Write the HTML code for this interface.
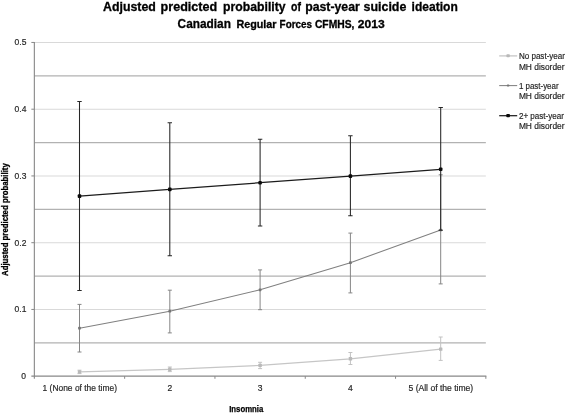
<!DOCTYPE html>
<html><head><meta charset="utf-8"><title>chart</title>
<style>
html,body{margin:0;padding:0;background:#fff;}
body{width:567px;height:413px;overflow:hidden;font-family:"Liberation Sans",sans-serif;}
svg{display:block;will-change:transform;filter:grayscale(1);}
text{font-family:"Liberation Sans",sans-serif;}
.s{stroke:#262626;stroke-width:0.18px;}
</style></head><body>
<svg width="567" height="413" viewBox="0 0 567 413">
<rect width="567" height="413" fill="#fff"/>
<line x1="34.35" x2="485.85" y1="342.82" y2="342.82" stroke="#b2b2b2" stroke-width="1.2"/>
<line x1="34.35" x2="485.85" y1="309.45" y2="309.45" stroke="#d9d9d9" stroke-width="1.05"/>
<line x1="34.35" x2="485.85" y1="276.07" y2="276.07" stroke="#b2b2b2" stroke-width="1.2"/>
<line x1="34.35" x2="485.85" y1="242.7" y2="242.7" stroke="#d9d9d9" stroke-width="1.05"/>
<line x1="34.35" x2="485.85" y1="209.32" y2="209.32" stroke="#b2b2b2" stroke-width="1.2"/>
<line x1="34.35" x2="485.85" y1="175.95" y2="175.95" stroke="#d9d9d9" stroke-width="1.05"/>
<line x1="34.35" x2="485.85" y1="142.57" y2="142.57" stroke="#b2b2b2" stroke-width="1.2"/>
<line x1="34.35" x2="485.85" y1="109.2" y2="109.2" stroke="#d9d9d9" stroke-width="1.05"/>
<line x1="34.35" x2="485.85" y1="75.82" y2="75.82" stroke="#b2b2b2" stroke-width="1.2"/>
<line x1="34.35" x2="485.85" y1="42.45" y2="42.45" stroke="#d9d9d9" stroke-width="1.05"/>
<line x1="34.35" x2="34.35" y1="41.95" y2="378.8" stroke="#878787" stroke-width="1.1"/>
<line x1="31.35" x2="486.35" y1="376.2" y2="376.2" stroke="#878787" stroke-width="1.3"/>
<line x1="31.35" x2="34.35" y1="309.45" y2="309.45" stroke="#878787" stroke-width="1"/>
<line x1="31.35" x2="34.35" y1="242.7" y2="242.7" stroke="#878787" stroke-width="1"/>
<line x1="31.35" x2="34.35" y1="175.95" y2="175.95" stroke="#878787" stroke-width="1"/>
<line x1="31.35" x2="34.35" y1="109.2" y2="109.2" stroke="#878787" stroke-width="1"/>
<line x1="31.35" x2="34.35" y1="42.45" y2="42.45" stroke="#878787" stroke-width="1"/>
<line x1="124.65" x2="124.65" y1="376.2" y2="378.8" stroke="#878787" stroke-width="1"/>
<line x1="214.95" x2="214.95" y1="376.2" y2="378.8" stroke="#878787" stroke-width="1"/>
<line x1="305.25" x2="305.25" y1="376.2" y2="378.8" stroke="#878787" stroke-width="1"/>
<line x1="395.55" x2="395.55" y1="376.2" y2="378.8" stroke="#878787" stroke-width="1"/>
<line x1="485.85" x2="485.85" y1="376.2" y2="378.8" stroke="#878787" stroke-width="1"/>
<path d="M79.50 370.2V373.6M77.50 370.2H81.50M77.50 373.6H81.50" stroke="#c2c2c2" stroke-width="1.0" fill="none"/>
<path d="M169.80 367.0V371.6M167.80 367.0H171.80M167.80 371.6H171.80" stroke="#c2c2c2" stroke-width="1.0" fill="none"/>
<path d="M260.10 362.3V368.6M258.10 362.3H262.10M258.10 368.6H262.10" stroke="#c2c2c2" stroke-width="1.0" fill="none"/>
<path d="M350.40 352.5V364.5M348.40 352.5H352.40M348.40 364.5H352.40" stroke="#c2c2c2" stroke-width="1.0" fill="none"/>
<path d="M440.70 337.0V360.4M438.70 337.0H442.70M438.70 360.4H442.70" stroke="#c2c2c2" stroke-width="1.0" fill="none"/>
<polyline points="79.50,371.9 169.80,369.3 260.10,365.4 350.40,358.8 440.70,349.1" fill="none" stroke="#c6c6c6" stroke-width="1.3"/>
<rect x="77.80" y="370.20" width="3.4" height="3.4" rx="0.5" fill="#b9b9b9"/>
<rect x="168.10" y="367.60" width="3.4" height="3.4" rx="0.5" fill="#b9b9b9"/>
<rect x="258.40" y="363.70" width="3.4" height="3.4" rx="0.5" fill="#b9b9b9"/>
<rect x="348.70" y="357.10" width="3.4" height="3.4" rx="0.5" fill="#b9b9b9"/>
<rect x="439.00" y="347.40" width="3.4" height="3.4" rx="0.5" fill="#b9b9b9"/>
<path d="M79.50 304.4V352.0M77.50 304.4H81.50M77.50 352.0H81.50" stroke="#868686" stroke-width="1.0" fill="none"/>
<path d="M169.80 290.2V332.9M167.80 290.2H171.80M167.80 332.9H171.80" stroke="#868686" stroke-width="1.0" fill="none"/>
<path d="M260.10 269.9V309.7M258.10 269.9H262.10M258.10 309.7H262.10" stroke="#868686" stroke-width="1.0" fill="none"/>
<path d="M350.40 233.1V292.9M348.40 233.1H352.40M348.40 292.9H352.40" stroke="#868686" stroke-width="1.0" fill="none"/>
<path d="M440.70 174.8V283.9M438.70 174.8H442.70M438.70 283.9H442.70" stroke="#868686" stroke-width="1.0" fill="none"/>
<polyline points="79.50,328.2 169.80,311.2 260.10,289.8 350.40,262.7 440.70,230.0" fill="none" stroke="#808080" stroke-width="1.05"/>
<rect x="78.15" y="326.85" width="2.7" height="2.7" rx="0.6" fill="#757575"/>
<rect x="168.45" y="309.85" width="2.7" height="2.7" rx="0.6" fill="#757575"/>
<rect x="258.75" y="288.45" width="2.7" height="2.7" rx="0.6" fill="#757575"/>
<rect x="349.05" y="261.35" width="2.7" height="2.7" rx="0.6" fill="#757575"/>
<rect x="439.35" y="228.65" width="2.7" height="2.7" rx="0.6" fill="#757575"/>
<path d="M79.50 101.5V290.4M77.30 101.5H81.70M77.30 290.4H81.70" stroke="#262626" stroke-width="1.05" fill="none"/>
<path d="M169.80 122.8V255.8M167.60 122.8H172.00M167.60 255.8H172.00" stroke="#262626" stroke-width="1.05" fill="none"/>
<path d="M260.10 139.3V225.9M257.90 139.3H262.30M257.90 225.9H262.30" stroke="#262626" stroke-width="1.05" fill="none"/>
<path d="M350.40 135.7V215.8M348.20 135.7H352.60M348.20 215.8H352.60" stroke="#262626" stroke-width="1.05" fill="none"/>
<path d="M440.70 107.4V230.3M438.50 107.4H442.90M438.50 230.3H442.90" stroke="#262626" stroke-width="1.05" fill="none"/>
<polyline points="79.50,196.1 169.80,189.4 260.10,182.7 350.40,176.1 440.70,169.3" fill="none" stroke="#1c1c1c" stroke-width="1.25"/>
<rect x="77.70" y="194.30" width="3.6" height="3.6" rx="1.0" fill="#0a0a0a"/>
<rect x="168.00" y="187.60" width="3.6" height="3.6" rx="1.0" fill="#0a0a0a"/>
<rect x="258.30" y="180.90" width="3.6" height="3.6" rx="1.0" fill="#0a0a0a"/>
<rect x="348.60" y="174.30" width="3.6" height="3.6" rx="1.0" fill="#0a0a0a"/>
<rect x="438.90" y="167.50" width="3.6" height="3.6" rx="1.0" fill="#0a0a0a"/>
<text x="26.1" y="379.15" font-size="8.5" text-anchor="end" fill="#262626" class="s">0</text>
<text x="26.45" y="312.40" font-size="8.5" text-anchor="end" fill="#262626" class="s">0.1</text>
<text x="26.45" y="245.65" font-size="8.5" text-anchor="end" fill="#262626" class="s">0.2</text>
<text x="26.45" y="178.90" font-size="8.5" text-anchor="end" fill="#262626" class="s">0.3</text>
<text x="26.45" y="112.15" font-size="8.5" text-anchor="end" fill="#262626" class="s">0.4</text>
<text x="26.45" y="45.40" font-size="8.5" text-anchor="end" fill="#262626" class="s">0.5</text>
<text x="42.6" y="390.6" font-size="8.5" textLength="74.4" lengthAdjust="spacingAndGlyphs" fill="#262626" class="s">1 (None of the time)</text>
<text x="169.80" y="390.6" font-size="8.5" text-anchor="middle" fill="#262626" class="s">2</text>
<text x="260.10" y="390.6" font-size="8.5" text-anchor="middle" fill="#262626" class="s">3</text>
<text x="350.40" y="390.6" font-size="8.5" text-anchor="middle" fill="#262626" class="s">4</text>
<text x="408.5" y="390.6" font-size="8.5" textLength="64.7" lengthAdjust="spacingAndGlyphs" fill="#262626" class="s">5 (All of the time)</text>
<text x="103.0" y="10.7" font-size="12.8" font-weight="bold" stroke="#000" stroke-width="0.3" textLength="52.8" lengthAdjust="spacingAndGlyphs" fill="#000">Adjusted</text>
<text x="160.6" y="10.7" font-size="12.8" font-weight="bold" stroke="#000" stroke-width="0.3" textLength="56.6" lengthAdjust="spacingAndGlyphs" fill="#000">predicted</text>
<text x="223.1" y="10.7" font-size="12.8" font-weight="bold" stroke="#000" stroke-width="0.3" textLength="62.5" lengthAdjust="spacingAndGlyphs" fill="#000">probability</text>
<text x="291.0" y="10.7" font-size="12.8" font-weight="bold" stroke="#000" stroke-width="0.3" textLength="9.9" lengthAdjust="spacingAndGlyphs" fill="#000">of</text>
<text x="305.2" y="10.7" font-size="12.8" font-weight="bold" stroke="#000" stroke-width="0.3" textLength="54.6" lengthAdjust="spacingAndGlyphs" fill="#000">past-year</text>
<text x="363.5" y="10.7" font-size="12.8" font-weight="bold" stroke="#000" stroke-width="0.3" textLength="42.9" lengthAdjust="spacingAndGlyphs" fill="#000">suicide</text>
<text x="411.6" y="10.7" font-size="12.8" font-weight="bold" stroke="#000" stroke-width="0.3" textLength="46.2" lengthAdjust="spacingAndGlyphs" fill="#000">ideation</text>
<text x="177.6" y="28.4" font-size="12.6" font-weight="bold" stroke="#000" stroke-width="0.3" textLength="53.3" lengthAdjust="spacingAndGlyphs" fill="#000">Canadian</text>
<text x="236.4" y="28.4" font-size="10.6" font-weight="bold" stroke="#000" stroke-width="0.3" textLength="40.1" lengthAdjust="spacingAndGlyphs" fill="#000">Regular</text>
<text x="279.6" y="28.4" font-size="10.6" font-weight="bold" stroke="#000" stroke-width="0.3" textLength="32.5" lengthAdjust="spacingAndGlyphs" fill="#000">Forces</text>
<text x="314.9" y="28.4" font-size="10.6" font-weight="bold" stroke="#000" stroke-width="0.3" textLength="39.5" lengthAdjust="spacingAndGlyphs" fill="#000">CFMHS,</text>
<text x="357.8" y="28.4" font-size="10.6" font-weight="bold" stroke="#000" stroke-width="0.3" textLength="26.9" lengthAdjust="spacingAndGlyphs" fill="#000">2013</text>
<text x="229.2" y="411.6" font-size="8.8" font-weight="bold" stroke="#000" stroke-width="0.25" textLength="34.1" lengthAdjust="spacingAndGlyphs" fill="#000">Insomnia</text>
<text transform="translate(8.3,276.0) rotate(-90)" font-size="9.2" font-weight="bold" stroke="#000" stroke-width="0.3" textLength="112.8" lengthAdjust="spacingAndGlyphs" fill="#000">Adjusted predicted probability</text>
<line x1="499.2" x2="517.2" y1="55.9" y2="55.9" stroke="#c6c6c6" stroke-width="1.3"/>
<rect x="506.40" y="54.30" width="3.4" height="3.0" rx="0.8" fill="#b9b9b9"/>
<text x="518.9" y="58.9" font-size="8.5" textLength="46.1" lengthAdjust="spacingAndGlyphs" fill="#262626" class="s">No past-year</text>
<text x="518.9" y="69.7" font-size="8.5" textLength="45.6" lengthAdjust="spacingAndGlyphs" fill="#262626" class="s">MH disorder</text>
<line x1="499.2" x2="517.2" y1="85.6" y2="85.6" stroke="#808080" stroke-width="1.05"/>
<rect x="506.80" y="84.40" width="2.6" height="2.2" rx="0.8" fill="#757575"/>
<text x="518.9" y="88.6" font-size="8.5" textLength="39.7" lengthAdjust="spacingAndGlyphs" fill="#262626" class="s">1 past-year</text>
<text x="518.9" y="99.4" font-size="8.5" textLength="45.6" lengthAdjust="spacingAndGlyphs" fill="#262626" class="s">MH disorder</text>
<line x1="499.2" x2="517.2" y1="115.7" y2="115.7" stroke="#1c1c1c" stroke-width="1.25"/>
<rect x="506.30" y="114.00" width="3.6" height="3.2" rx="0.8" fill="#0a0a0a"/>
<text x="518.9" y="118.5" font-size="8.5" textLength="45.1" lengthAdjust="spacingAndGlyphs" fill="#262626" class="s">2+ past-year</text>
<text x="518.9" y="129.3" font-size="8.5" textLength="45.6" lengthAdjust="spacingAndGlyphs" fill="#262626" class="s">MH disorder</text>
</svg></body></html>
